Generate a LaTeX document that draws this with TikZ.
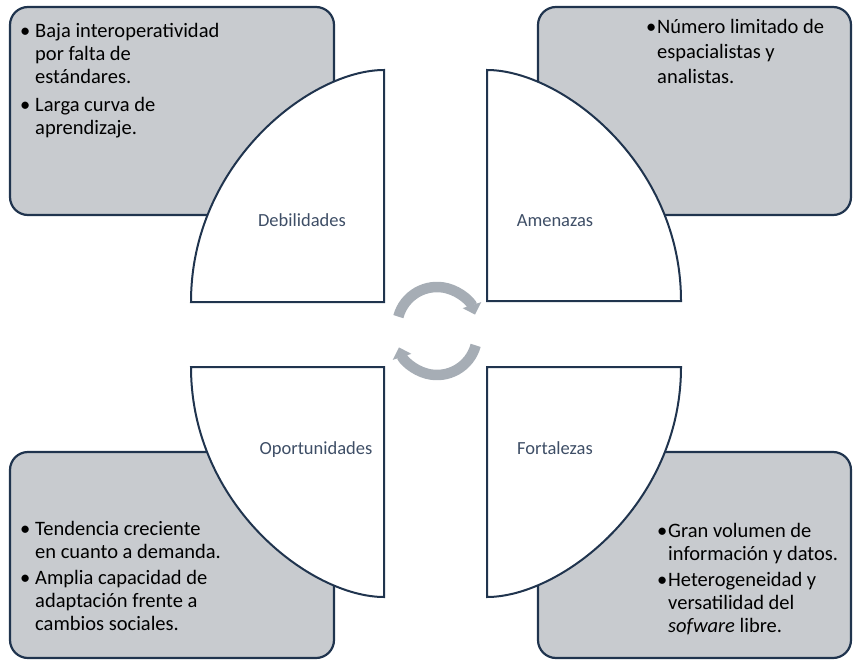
\documentclass[tikz,border=0pt]{standalone}
\usepackage{fontspec}
\setmainfont{Carlito}
\usetikzlibrary{arrows.meta}
\definecolor{boxfill}{RGB}{200,203,207}
\definecolor{navy}{RGB}{32,52,78}
\definecolor{labelcol}{RGB}{62,78,102}
\definecolor{arrowgray}{RGB}{166,173,181}
\newcommand{\bul}[1]{\makebox[#1][l]{\textbullet}}
\begin{document}
\begin{tikzpicture}[x=1pt,y=-1pt,
  sbox/.style={draw=navy, line width=2.2pt, fill=boxfill, rounded corners=18pt},
  pie/.style={draw=navy, line width=2pt, fill=white, line join=miter},
  lbl/.style={text=labelcol, font=\fontsize{18.5}{22}\selectfont, inner sep=0pt, anchor=base},
  body/.style={text=black, font=\fontsize{20.5}{23}\selectfont, inner sep=0pt, anchor=base west},
  cyc/.style={draw=arrowgray, line width=10.5pt, -{Triangle[width=19pt,length=10pt]}}]
\useasboundingbox (0,0) rectangle (853,660);
% side boxes
\draw[sbox] (10,7) rectangle (334,215);
\draw[sbox] (538,7) rectangle (851,215);
\draw[sbox] (10,452) rectangle (334,658);
\draw[sbox] (538,452) rectangle (851,658);
% quarter shapes
\draw[pie] (384,302) -- (191,302) .. controls (191,162.8) and (310.7,70) .. (384,70) -- cycle;
\draw[pie] (487,301) -- (487,70) .. controls (560.7,70) and (681,162.4) .. (681,301) -- cycle;
\draw[pie] (384,367) -- (191,367) .. controls (191,505) and (310.7,597) .. (384,597) -- cycle;
\draw[pie] (487,367) -- (681,367) .. controls (681,505) and (560.7,597) .. (487,597) -- cycle;
% cycle arrows
\draw[cyc] (437,327) ++(195:40) arc[start angle=195, end angle=342, radius=40];
\draw[cyc] (437,335) ++(15:40) arc[start angle=15, end angle=162, radius=40];
% labels
\node[lbl] (deb) at (302,226) {Debilidades};
\node[lbl] (ame) at (555,226) {Amenazas};
\node[lbl] (opo) at (316,454) {Oportunidades};
\node[lbl] (fort) at (555,454) {Fortalezas};
% texts
\node[body] (debt) at (20,38) {\begin{tabular}[t]{@{}l@{}l@{}}
\bul{15pt} & Baja interoperatividad\\
 & por falta de\\
 & estándares.\\[5pt]
\bul{15pt} & Larga curva de\\
 & aprendizaje.
\end{tabular}};
\node[body] (amet) at (646,34) {\begin{tabular}[t]{@{}l@{}l@{}}
\bul{11pt} & Número limitado de\\[2pt]
 & espacialistas y\\[2pt]
 & analistas.
\end{tabular}};
\node[body] (opot) at (20,535) {\begin{tabular}[t]{@{}l@{}l@{}}
\bul{15pt} & Tendencia creciente\\
 & en cuanto a demanda.\\[3pt]
\bul{15pt} & Amplia capacidad de\\
 & adaptación frente a\\
 & cambios sociales.
\end{tabular}};
\node[body] (fortt) at (657,537) {\begin{tabular}[t]{@{}l@{}l@{}}
\bul{11pt} & Gran volumen de\\
 & información y datos.\\[3pt]
\bul{11pt} & Heterogeneidad y\\
 & versatilidad del\\
 & \textit{sofware} libre.
\end{tabular}};
\end{tikzpicture}
\end{document}
